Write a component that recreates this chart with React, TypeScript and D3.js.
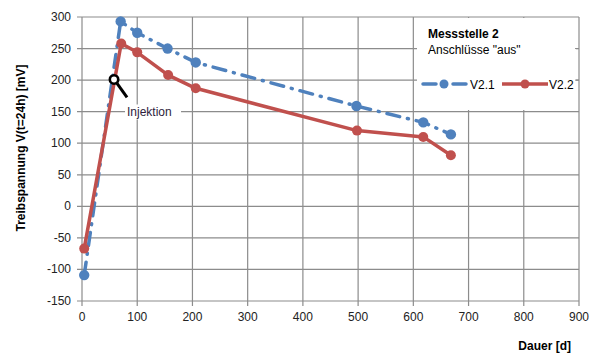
import * as d3 from 'd3';

const WIDTH = 598;
const HEIGHT = 356;
const MARGIN = { top: 17, right: 19, bottom: 55, left: 82 };

const xTicks = [0, 100, 200, 300, 400, 500, 600, 700, 800, 900];
const yTicks = [-150, -100, -50, 0, 50, 100, 150, 200, 250, 300];

const daysV21 = [4, 70, 100, 155, 206, 497, 618, 668];
const valuesV21 = [-109, 293, 275, 250, 228, 159, 133, 114];

const daysV22 = [4, 71, 100, 156, 206, 498, 618, 668];
const valuesV22 = [-67, 258, 244, 208, 187, 120, 110, 81];

const injection = { day: 58, value: 201, label: 'Injektion' };

const BLUE = '#4f81bd';
const RED = '#c0504d';
const FONT = '"Liberation Sans", Arial, sans-serif';

type Pt = { x: number; y: number };

const App = () => {
  const boundsWidth = WIDTH - MARGIN.left - MARGIN.right;
  const boundsHeight = HEIGHT - MARGIN.top - MARGIN.bottom;

  const xScale = d3.scaleLinear().domain([0, 900]).range([0, boundsWidth]);
  const yScale = d3.scaleLinear().domain([-150, 300]).range([boundsHeight, 0]);

  const lineBuilder = d3
    .line<Pt>()
    .x((d) => xScale(d.x))
    .y((d) => yScale(d.y));

  const v21 = daysV21.map((x, i) => ({ x, y: valuesV21[i] }));
  const v22 = daysV22.map((x, i) => ({ x, y: valuesV22[i] }));

  const ix = xScale(injection.day);
  const iy = yScale(injection.value);

  return (
    <svg
      width={WIDTH}
      height={HEIGHT}
      style={{ position: 'absolute', left: 0, top: 0, background: '#fff' }}
      fontFamily={FONT}
    >
      <g transform={`translate(${MARGIN.left},${MARGIN.top})`}>
        {/* grid */}
        {xTicks.map((t) => (
          <line
            key={'gx' + t}
            x1={xScale(t)}
            x2={xScale(t)}
            y1={0}
            y2={boundsHeight + 5}
            stroke="#8c8c8c"
            strokeWidth={1.2}
          />
        ))}
        {yTicks.map((t) => (
          <line
            key={'gy' + t}
            x1={-5}
            x2={boundsWidth}
            y1={yScale(t)}
            y2={yScale(t)}
            stroke="#8c8c8c"
            strokeWidth={1.2}
          />
        ))}

        {/* legend background hides grid */}
        <rect x={335} y={1} width={159} height={92} fill="#fff" />
        <line x1={boundsWidth - 4} x2={boundsWidth} y1={yScale(250)} y2={yScale(250)} stroke="#8c8c8c" />
        <line x1={boundsWidth - 4} x2={boundsWidth} y1={yScale(200)} y2={yScale(200)} stroke="#8c8c8c" />

        {/* tick labels */}
        {xTicks.map((t) => (
          <text
            key={'tx' + t}
            x={xScale(t)}
            y={boundsHeight + 20}
            textAnchor="middle"
            fontSize={12}
            fill="#222"
          >
            {t}
          </text>
        ))}
        {yTicks.map((t) => (
          <text
            key={'ty' + t}
            x={-11}
            y={yScale(t) + 4}
            textAnchor="end"
            fontSize={12}
            fill="#222"
          >
            {t}
          </text>
        ))}

        {/* V2.1 dash-dot */}
        <path
          d={lineBuilder(v21) || ''}
          fill="none"
          stroke={BLUE}
          strokeWidth={3.5}
          strokeDasharray="13 8 1 8"
          strokeLinecap="round"
          strokeLinejoin="round"
        />
        {v21.map((d, i) => (
          <circle key={'c1' + i} cx={xScale(d.x)} cy={yScale(d.y)} r={5.2} fill={BLUE} />
        ))}

        {/* V2.2 solid */}
        <path
          d={lineBuilder(v22) || ''}
          fill="none"
          stroke={RED}
          strokeWidth={3.5}
          strokeLinejoin="round"
        />
        {v22.map((d, i) => (
          <circle key={'c2' + i} cx={xScale(d.x)} cy={yScale(d.y)} r={5} fill={RED} />
        ))}

        {/* injection marker */}
        <line x1={ix + 3} y1={iy + 4} x2={ix + 13} y2={iy + 18} stroke="#000" strokeWidth={3} />
        <circle cx={ix} cy={iy} r={4.2} fill="#fff" stroke="#000" strokeWidth={2.6} />
        <rect x={ix + 11} y={iy + 25} width={56} height={15} fill="#fff" />
        <text x={ix + 13} y={iy + 37} fontSize={12} fill="#2e1d3d">
          {injection.label}
        </text>

        {/* legend */}
        <text x={346} y={21} fontSize={12} fontWeight="bold" fill="#000">
          Messstelle 2
        </text>
        <text x={346} y={37} fontSize={12} fill="#000">
          Anschlüsse "aus"
        </text>
        <line
          x1={341}
          x2={386}
          y1={67}
          y2={67}
          stroke={BLUE}
          strokeWidth={3.5}
          strokeDasharray="13 8 1 8"
          strokeLinecap="round"
        />
        <circle cx={362} cy={67} r={4.5} fill={BLUE} />
        <text x={388} y={71.5} fontSize={12} fill="#000">
          V2.1
        </text>
        <line x1={420} x2={466} y1={67} y2={67} stroke={RED} strokeWidth={3.5} />
        <circle cx={443} cy={67} r={4.5} fill={RED} />
        <text x={467} y={71.5} fontSize={12} fill="#000">
          V2.2
        </text>
      </g>

      {/* axis titles */}
      <text
        transform={`translate(25,${148}) rotate(-90)`}
        textAnchor="middle"
        fontSize={12}
        fontWeight="bold"
        fill="#000"
      >
        Treibspannung V(t=24h) [mV]
      </text>
      <text x={571} y={350} textAnchor="end" fontSize={12} fontWeight="bold" fill="#000">
        Dauer [d]
      </text>
    </svg>
  );
};

export default App;
